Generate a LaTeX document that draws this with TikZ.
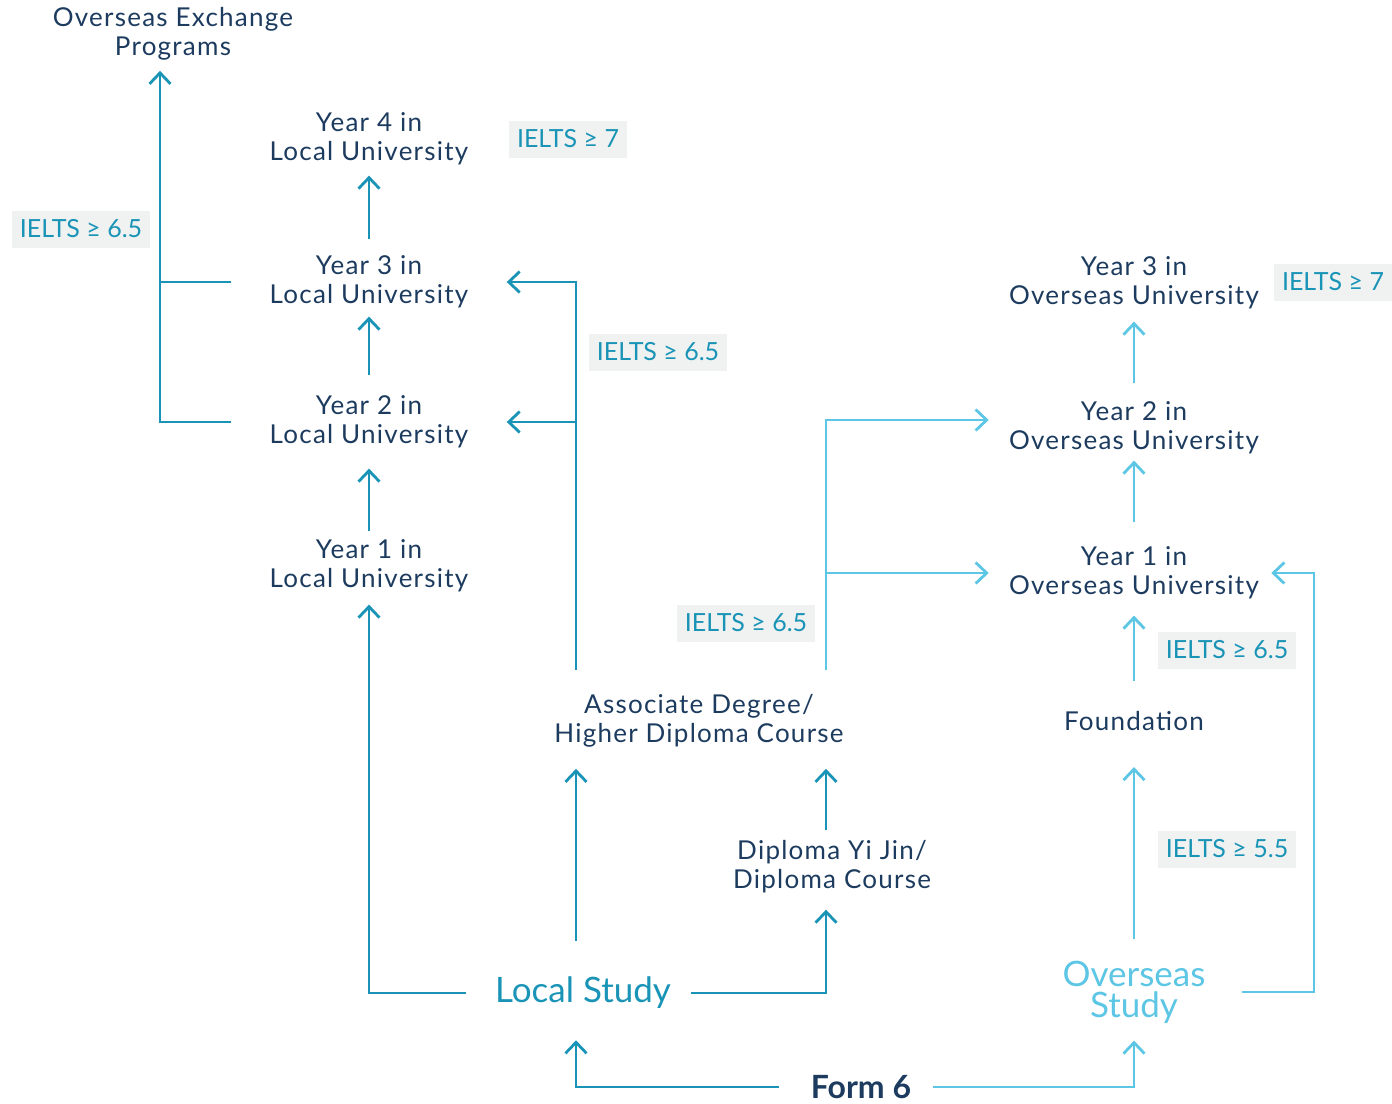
\documentclass[tikz,border=0pt]{standalone}
\usepackage{fontspec}
\setmainfont{Lato}
\usetikzlibrary{arrows.meta}

\definecolor{navy}{HTML}{1C3B5E}
\definecolor{tealdark}{HTML}{1A94B6}
\definecolor{skyblue}{HTML}{5CC6E4}
\definecolor{boxgray}{HTML}{F0F2F2}

\tikzset{
  stage/.style={align=center, text=navy, inner sep=0pt, font=\fontsize{13}{14.5}\selectfont\addfontfeature{LetterSpace=4.8}},
  ielts/.style={fill=boxgray, text=tealdark, inner xsep=4pt, minimum height=18.5pt, font=\fontsize{12.5}{14}\selectfont},
  loc/.style={draw=tealdark, line width=1.4pt},
  ovs/.style={draw=skyblue, line width=1.4pt},
  arr/.style={-{Straight Barb[length=5.5pt,width=10.5pt,line width=1.4pt]}}
}

\begin{document}
\begin{tikzpicture}[x=0.5pt,y=-0.5pt]
				\useasboundingbox (0,0) rectangle (1392,1103);
				% local side
				\node[stage] (oep)at(173,34) {Overseas Exchange\\Programs};
				\node[stage] (y4l)at(369,139) {Year 4 in\\Local University};
				\node[stage] (y3l)at(369,282) {Year 3 in\\Local University};
				\node[stage] (y2l)at(369,422) {Year 2 in\\Local University};
				\node[stage] (y1l)at(369,566) {Year 1 in\\Local University};
				\node[stage] (ad)at(699,721) {Associate Degree/\\Higher Diploma Course};
				\node[stage] (dip)at(832,867) {Diploma Yi Jin/\\Diploma Course};
				\node[stage, text=tealdark, font=\fontsize{17.5}{19}\selectfont] (ls)at(583,993) {Local Study};
				% overseas side
				\node[stage] (y3o)at(1134,283) {Year 3 in\\Overseas University};
				\node[stage] (y2o)at(1134,428) {Year 2 in\\Overseas University};
				\node[stage] (y1o)at(1134,573) {Year 1 in\\Overseas University};
				\node[stage] (fdn)at(1134,721) {Foundation};
				\node[stage, text=skyblue, font=\fontsize{17.5}{15.5}\selectfont] (os)at(1134,992) {Overseas\\Study};
				\node[stage, font=\bfseries\fontsize{16}{18}\selectfont] (f6)at(861,1087) {Form 6};
				% requirements
				\node[ielts] (r1)at(568,139) {IELTS ≥ 7};
				\node[ielts] (r2)at(81,229) {IELTS ≥ 6.5};
				\node[ielts] (r3)at(658,352) {IELTS ≥ 6.5};
				\node[ielts] (r4)at(746,623) {IELTS ≥ 6.5};
				\node[ielts] (r5)at(1333,282) {IELTS ≥ 7};
				\node[ielts] (r6)at(1227,650) {IELTS ≥ 6.5};
				\node[ielts] (r7)at(1227,849) {IELTS ≥ 5.5};
				% junction columns
				\coordinate (xl)at(160,0);
				\coordinate (lv)at(576,0);
				\coordinate (dv)at(826,0);
				\coordinate (rv)at(1314,0);
				% connectors
				\draw[loc, arr, shorten <=4pt, shorten >=10pt] (y1l.north) -- (y2l.south);
				\draw[loc, arr, shorten <=10pt, shorten >=4pt] (y2l.north) -- (y3l.south);
				\draw[loc, arr, shorten <=8pt, shorten >=5pt] (y3l.north) -- (y4l.south);
				\draw[loc, arr, shorten <=19pt, shorten >=5pt] (y2l.west) -| (xl |- oep.south);
				\draw[loc, shorten <=19pt] (y3l.west) -- (xl |- y3l.west);
				\draw[loc, arr, shorten <=12pt, shorten >=19pt] (ad.north -| lv) |- (y3l.east);
				\draw[loc, arr, shorten >=19pt] (lv |- y2l.east) -- (y2l.east);
				\draw[loc, arr, shorten <=18pt, shorten >=10.5pt] (ls.north -| lv) -- (ad.south -| lv);
				\draw[loc, arr, shorten <=14.5pt, shorten >=6pt] (ls.west) -| (y1l.south);
				\draw[loc, arr, shorten <=10pt, shorten >=8pt] (ls.east) -| (dv |- dip.south);
				\draw[loc, arr, shorten <=5pt, shorten >=10.5pt] (dip.north -| dv) -- (ad.south -| dv);
				\draw[loc, arr, shorten <=16pt, shorten >=15.5pt] (f6.west) -| (ls.south -| lv);
				\draw[ovs, arr, shorten <=11pt, shorten >=8.5pt] (f6.east) -| (os.south);
				\draw[ovs, arr, shorten <=10.5pt, shorten >=18pt] (os.north) -- (fdn.south);
				\draw[ovs, arr, shorten <=15pt, shorten >=8pt] (fdn.north) -- (y1o.south);
				\draw[ovs, arr, shorten <=12pt, shorten >=3pt] (y1o.north) -- (y2o.south);
				\draw[ovs, arr, shorten <=9pt, shorten >=6pt] (y2o.north) -- (y3o.south);
				\draw[ovs, arr, shorten <=18pt, shorten >=6pt] (os.east) -| (rv |- y1o.east) -- (y1o.east);
				\draw[ovs, arr, shorten <=12pt, shorten >=10pt] (ad.north -| dv) |- ([yshift=4pt]y2o.west);
				\draw[ovs, arr, shorten >=10pt] (dv |- y1o.west) -- (y1o.west);
			\end{tikzpicture}
\end{document}
